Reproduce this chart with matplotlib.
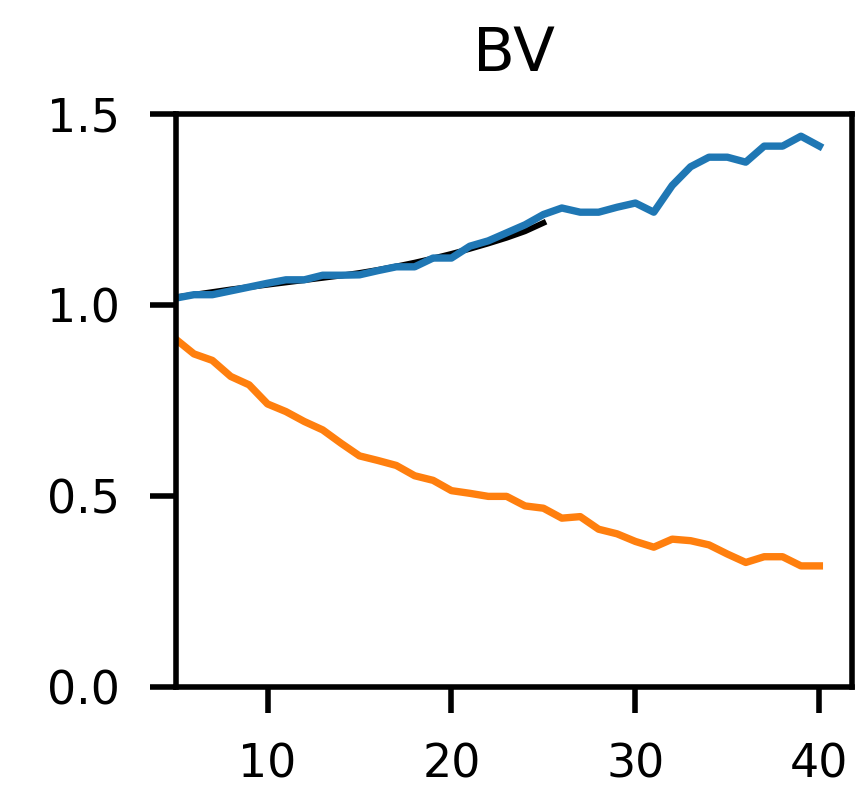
import matplotlib
matplotlib.use("Agg")
import matplotlib.pyplot as plt
import numpy as np

# data
x = np.arange(5, 41)
blue = [1.018, 1.027, 1.027, 1.037, 1.047, 1.057, 1.066, 1.066, 1.078, 1.078,
        1.079, 1.090, 1.100, 1.100, 1.123, 1.123, 1.154, 1.168, 1.189, 1.210,
        1.237, 1.254, 1.243, 1.243, 1.256, 1.267, 1.243, 1.313, 1.362, 1.387,
        1.387, 1.374, 1.416, 1.416, 1.442, 1.416]
orange = [0.911, 0.872, 0.855, 0.813, 0.791, 0.741, 0.721, 0.695, 0.673, 0.638,
          0.605, 0.593, 0.580, 0.553, 0.541, 0.514, 0.507, 0.499, 0.499, 0.474,
          0.468, 0.442, 0.446, 0.413, 0.401, 0.381, 0.366, 0.387, 0.383, 0.372,
          0.348, 0.326, 0.341, 0.341, 0.317, 0.317]
fit_x = np.arange(5, 26)
fit = [1.020, 1.027, 1.034, 1.041, 1.047, 1.053, 1.059, 1.065, 1.071, 1.077,
       1.084, 1.092, 1.101, 1.111, 1.122, 1.134, 1.147, 1.161, 1.176, 1.193,
       1.215]

fig = plt.figure(figsize=(8.66, 7.87), dpi=100)
ax = fig.add_axes([0.2027, 0.1271, 0.7806, 0.7280])

ax.plot(fit_x, fit, color="black", lw=4.2)
ax.plot(x, blue, color="#1f77b4", lw=5.3)
ax.plot(x, orange, color="#ff7f0e", lw=5.3)

ax.set_xlim(5, 41.75)
ax.set_ylim(0, 1.5)
ax.set_xticks([10, 20, 30, 40])
ax.set_yticks([0.0, 0.5, 1.0, 1.5])

for s in ax.spines.values():
  s.set_linewidth(4)
ax.tick_params(length=19, width=4, pad=21, labelsize=33)
ax.set_title("BV", fontsize=44, pad=31)

fig.savefig("out.png", dpi=100)
